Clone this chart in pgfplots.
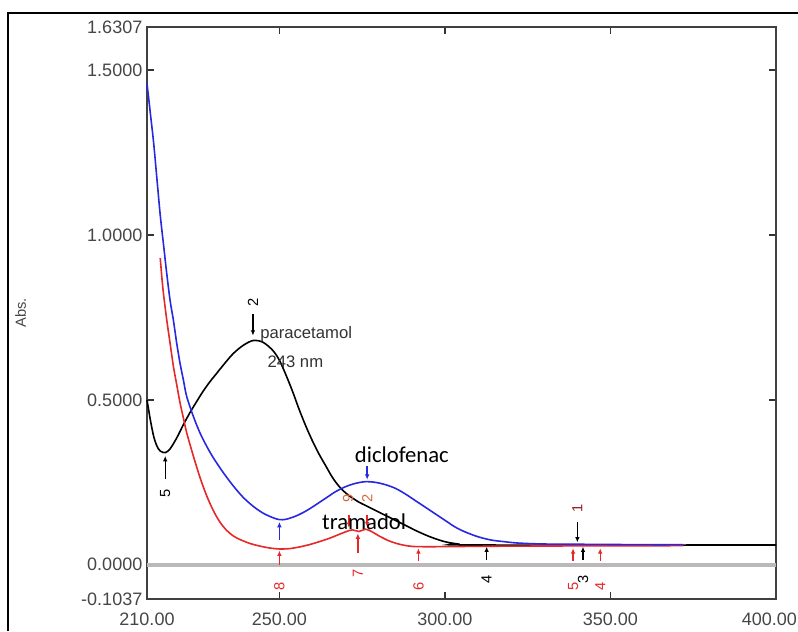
\documentclass[border=0pt]{standalone}
\usepackage{pgfplots}
\pgfplotsset{compat=1.18}
\usepackage{fontspec}
\setmainfont{Liberation Sans}
\newfontfamily\carlito{Carlito}
\usetikzlibrary{arrows.meta}
\definecolor{specblue}{RGB}{40,40,225}
\definecolor{specred}{RGB}{230,40,40}
\definecolor{peakorange}{RGB}{220,100,60}
\definecolor{darkred}{RGB}{150,30,30}
\definecolor{ticktext}{RGB}{70,70,70}
\tikzset{
  pinarrow/.style={line width=1pt, -{Latex[length=4pt,width=3.5pt]}},
  peaklab/.style={rotate=90, font=\fontsize{11}{11}\selectfont},
}

% spectra
\pgfplotstableread{
w a
210 0.50
211 0.44
212 0.39
213 0.36
214 0.345
215.5 0.34
217 0.352
219 0.385
221 0.425
223 0.462
225 0.495
227 0.527
229 0.555
231 0.58
233 0.605
236 0.64
239 0.665
242 0.68
245 0.675
248 0.65
250 0.62
252 0.575
254 0.525
256 0.47
258 0.42
260 0.375
262 0.335
264 0.30
266 0.265
268 0.238
270 0.218
272 0.203
274 0.19
276 0.18
280 0.16
284 0.14
288 0.12
292 0.10
296 0.083
300 0.07
304 0.063
308 0.06
400 0.06
}\paracetamol

\pgfplotstableread{
w a
210 1.46
211 1.37
212 1.28
213 1.17
214 1.06
215 0.97
216 0.88
217 0.80
218 0.74
219 0.67
220 0.61
221 0.56
222 0.51
224 0.45
226 0.40
228 0.36
230 0.325
233 0.28
236 0.24
239 0.205
242 0.178
245 0.157
248 0.143
250 0.137
252 0.138
255 0.148
258 0.163
261 0.182
264 0.202
267 0.222
270 0.237
273 0.247
276 0.252
279 0.25
282 0.243
285 0.232
288 0.215
291 0.195
294 0.175
297 0.155
300 0.135
303 0.115
306 0.10
310 0.085
314 0.075
318 0.07
322 0.066
330 0.063
345 0.062
360 0.061
372 0.061
}\diclofenac

\pgfplotstableread{
w a
214 0.93
214.5 0.87
215 0.82
216 0.74
217 0.67
218 0.60
219 0.545
220 0.49
221 0.445
222 0.40
224 0.33
226 0.265
228 0.21
230 0.165
232 0.13
234 0.105
236 0.088
238 0.077
241 0.065
244 0.057
247 0.051
250 0.048
253 0.049
256 0.054
259 0.061
262 0.07
265 0.08
268 0.092
270 0.10
272 0.106
274 0.101
276 0.108
278 0.10
280 0.088
283 0.073
286 0.063
289 0.057
292 0.055
300 0.055
310 0.056
330 0.057
372 0.058
}\tramadol

\begin{document}
\begin{tikzpicture}
\useasboundingbox (0,0) rectangle (598.5pt,473.25pt);
\draw[line width=1.1pt] (6pt,0) -- (6pt,463.5pt) -- (598.5pt,463.5pt);
\begin{axis}[
  at={(110.25pt,24pt)}, anchor=south west,
  scale only axis, width=471.75pt, height=429pt,
  xmin=210, xmax=400, ymin=-0.1037, ymax=1.6307,
  xtick={210,250,300,350,400},
  xticklabels={210.00,250.00,300.00,350.00,{\hspace*{-10pt}400.00}},
  ytick={-0.1037,0,0.5,1,1.5,1.6307},
  yticklabels={-0.1037,0.0000,0.5000,1.0000,1.5000,1.6307},
  tick align=inside, major tick length=5pt,
  axis line style={line width=1.2pt, black!75},
  tick style={line width=1pt, black!80},
  ticklabel style={font=\fontsize{13.5}{13.5}\selectfont, text=ticktext},
  xticklabel style={yshift=-7pt},
  /pgf/number format/assume math mode=true,
  ylabel={Abs.},
  ylabel style={at={(axis description cs:-0.185,0.5)}, font=\fontsize{11}{11}\selectfont, text=ticktext},
  clip=false,
]
\addplot[gray!55, line width=2.6pt] coordinates {(210,0) (400,0)};

\addplot[black, line width=1.2pt, smooth] table[x=w, y=a] {\paracetamol};
\addplot[specred, line width=1.2pt, smooth] table[x=w, y=a] {\tramadol};
\addplot[specblue, line width=1.2pt, smooth] table[x=w, y=a] {\diclofenac};

% peak pick markers
\addplot[black, pinarrow] coordinates {(242,0.76) (242,0.695)};
\addplot[black, pinarrow] coordinates {(215.5,0.26) (215.5,0.33)};
\addplot[black, pinarrow] coordinates {(312.6,0.015) (312.6,0.055)};
\addplot[black, pinarrow] coordinates {(341.7,0.015) (341.7,0.055)};
\addplot[black, pinarrow] coordinates {(340,0.13) (340,0.068)};

\addplot[specblue, pinarrow] coordinates {(276.5,0.30) (276.5,0.258)};
\addplot[specblue, pinarrow] coordinates {(250,0.075) (250,0.13)};

\addplot[specred, pinarrow] coordinates {(250,0.0) (250,0.043)};
\addplot[specred, pinarrow] coordinates {(273.7,0.035) (273.7,0.095)};
\addplot[specred, pinarrow] coordinates {(292,0.012) (292,0.05)};
\addplot[specred, pinarrow] coordinates {(338.7,0.012) (338.7,0.05)};
\addplot[specred, pinarrow] coordinates {(346.9,0.012) (346.9,0.05)};
\addplot[specred, pinarrow] coordinates {(271,0.15) (271,0.112)};
\addplot[specred, pinarrow] coordinates {(276.5,0.15) (276.5,0.114)};

\node[peaklab] at (axis cs:242,0.795) {2};
\node[peaklab] at (axis cs:215.5,0.215) {5};
\node[peaklab] at (axis cs:312.6,-0.045) {4};
\node[peaklab] at (axis cs:341.7,-0.045) {3};
\node[peaklab, text=darkred] at (axis cs:340,0.172) {1};
\node[peaklab, text=specred] at (axis cs:250,-0.065) {8};
\node[peaklab, text=specred] at (axis cs:273.7,-0.025) {7};
\node[peaklab, text=specred] at (axis cs:292,-0.065) {6};
\node[peaklab, text=specred] at (axis cs:338.7,-0.065) {5};
\node[peaklab, text=specred] at (axis cs:346.9,-0.065) {4};
\node[peaklab, text=peakorange] at (axis cs:270.7,0.2) {9};
\node[peaklab, text=peakorange] at (axis cs:276.5,0.2) {2};

\node[anchor=west, font=\fontsize{12.5}{12.5}\selectfont, text=black!80] at (axis cs:242.8,0.70) {paracetamol};
\node[anchor=west, font=\fontsize{12.5}{12.5}\selectfont, text=black!80] at (axis cs:245,0.615) {243 nm};
\node[font=\carlito\fontsize{17}{17}\selectfont] at (axis cs:287,0.335) {diclofenac};
\node[font=\carlito\fontsize{17}{17}\selectfont] at (axis cs:275.6,0.13) {tramadol};
\end{axis}
\end{tikzpicture}
\end{document}
